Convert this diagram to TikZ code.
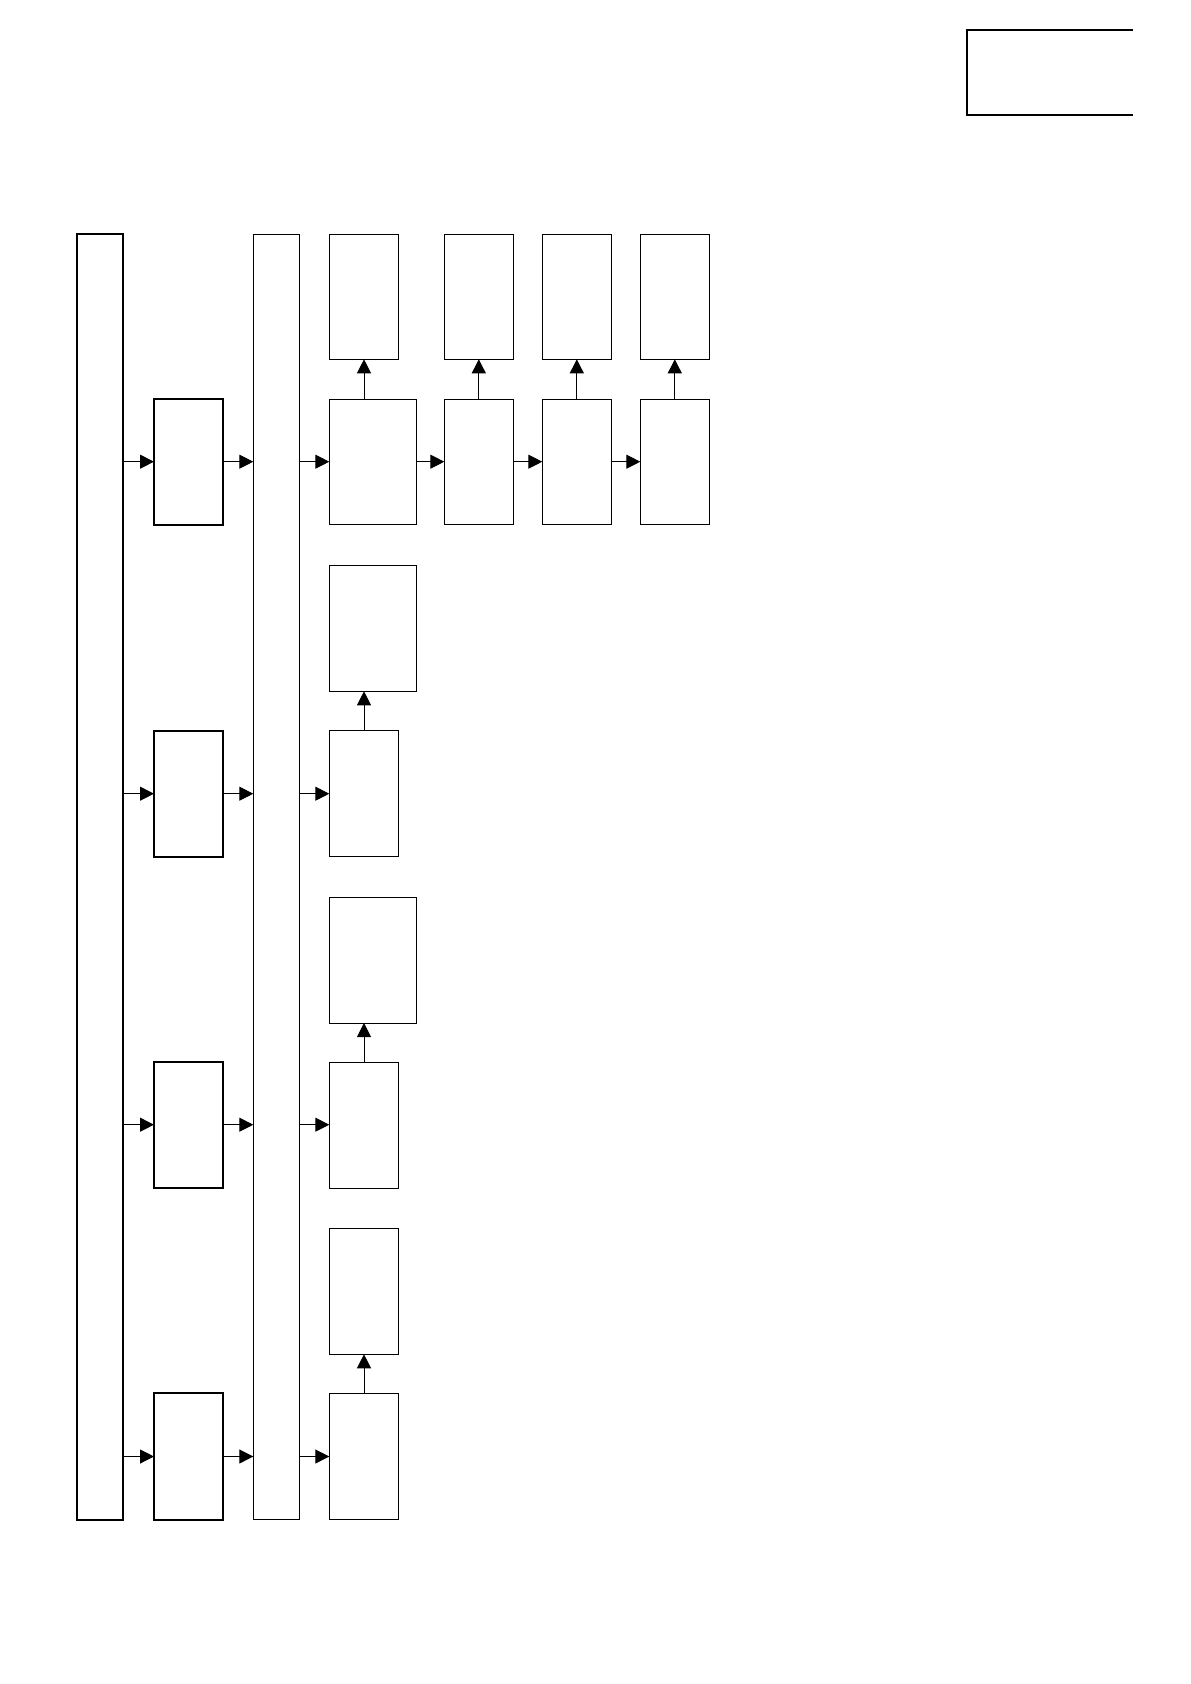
\documentclass[tikz,border=0pt]{standalone}
\usetikzlibrary{arrows.meta,fit}
\tikzset{
  thinbox/.style={draw, line width=0.5pt, inner sep=0pt, outer sep=0pt, fill=white},
  thickbox/.style={draw, line width=0.9pt, inner sep=0pt, outer sep=0pt, fill=white},
  arr/.style={line width=0.5pt, -{Triangle[length=7pt,width=7pt]}},
}
\begin{document}
\begin{tikzpicture}[x=0.5pt,y=-0.5pt]
\useasboundingbox (0,0) rectangle (1190,1684);
% top-right open box
\draw[line width=0.9pt] (1133.3,30) -- (966.7,30) -- (966.7,114.7) -- (1133.3,114.7);
% column 1
\node[thickbox, fit={(76.7,233.7) (123,1520)}] (c1) {};
% column 2
\node[thickbox, fit={(154,398.7) (223,524.7)}] (b1) {};
\node[thickbox, fit={(154,730.7) (223,856.7)}] (b2) {};
\node[thickbox, fit={(154,1061.7) (223,1187.7)}] (b3) {};
\node[thickbox, fit={(154,1393.3) (223,1519.7)}] (b4) {};
% column 3
\node[thinbox, fit={(253.3,234.3) (299.3,1519.3)}] (c3) {};
% row 1
\node[thinbox, fit={(329.3,234.3) (398.7,359.3)}] (u1) {};
\node[thinbox, fit={(329.3,399.3) (416.7,524.7)}] (d1) {};
\node[thinbox, fit={(444.3,234.3) (513.3,359.3)}] (u5) {};
\node[thinbox, fit={(444.3,399.3) (513.3,524.7)}] (d5) {};
\node[thinbox, fit={(542.3,234.3) (611.3,359.3)}] (u6) {};
\node[thinbox, fit={(542.3,399.3) (611.3,524.7)}] (d6) {};
\node[thinbox, fit={(640.3,234.3) (709.3,359.3)}] (u7) {};
\node[thinbox, fit={(640.3,399.3) (709.3,524.7)}] (d7) {};
% row 2
\node[thinbox, fit={(329.3,565.3) (416.7,691.3)}] (u2) {};
\node[thinbox, fit={(329.3,730.3) (398.7,856.3)}] (d2) {};
% row 3
\node[thinbox, fit={(329.3,897.3) (416.7,1023)}] (u3) {};
\node[thinbox, fit={(329.3,1062.3) (398.7,1188.3)}] (d3) {};
% row 4
\node[thinbox, fit={(329.3,1228.3) (398.7,1354.3)}] (u4) {};
\node[thinbox, fit={(329.3,1393) (398.7,1519)}] (d4) {};
% horizontal arrows
\foreach \b/\d in {b1/d1,b2/d2,b3/d3,b4/d4}{
  \draw[arr] (c1.east |- \b.west) -- (\b.west);
  \draw[arr] (\b.east) -- (c3.west |- \b.east);
  \draw[arr] (c3.east |- \b.east) -- (\d.west |- \b.east);
}
\draw[arr] (d1.east |- b1.east) -- (d5.west |- b1.east);
\draw[arr] (d5.east |- b1.east) -- (d6.west |- b1.east);
\draw[arr] (d6.east |- b1.east) -- (d7.west |- b1.east);
% vertical arrows
\draw[arr] (u1.south |- d1.north) -- (u1.south);
\draw[arr] (d5.north) -- (u5.south);
\draw[arr] (d6.north) -- (u6.south);
\draw[arr] (d7.north) -- (u7.south);
\draw[arr] (d2.north) -- (d2.north |- u2.south);
\draw[arr] (d3.north) -- (d3.north |- u3.south);
\draw[arr] (d4.north) -- (u4.south);
\end{tikzpicture}
\end{document}
